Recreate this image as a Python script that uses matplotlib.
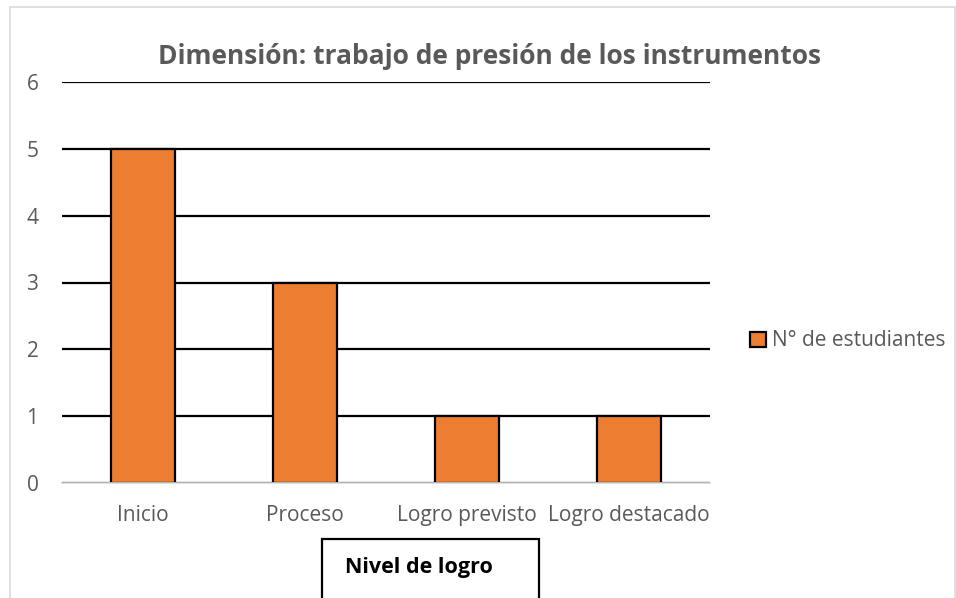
import matplotlib
matplotlib.use("Agg")
import matplotlib.pyplot as plt
from matplotlib.patches import Rectangle

plt.rcParams['font.family'] = ['Open Sans', 'DejaVu Sans']

categorias = ['Inicio', 'Proceso', 'Logro previsto', 'Logro destacado']
estudiantes = [5, 3, 1, 1]
serie = 'N° de estudiantes'
titulo = 'Dimensión: trabajo de presión de los instrumentos'
eje_x = 'Nivel de logro'

naranja = '#ED7D31'
gris = '#595959'

fig = plt.figure(figsize=(9.56, 5.98), dpi=100)
fig.patch.set_facecolor('white')

# outer chart frame
fig.patches.append(Rectangle((10 / 956, -0.01), 945 / 956, 1 - 7 / 598 + 0.01,
                             transform=fig.transFigure, fill=False,
                             edgecolor='#D9D9D9', linewidth=1.2))

ax = fig.add_axes([62 / 956, 115 / 598, 648 / 956, 401 / 598])
x = range(len(categorias))
ax.bar(x, estudiantes, width=0.40, color=naranja, edgecolor='black',
       linewidth=1.6, label=serie, zorder=3)

ax.set_xlim(-0.5, len(categorias) - 0.5)
ax.set_ylim(0, 6)
ax.set_yticks(range(0, 7))
ax.set_xticks(list(x))
ax.set_xticklabels(categorias)
ax.yaxis.grid(True, color='black', linewidth=1.6, zorder=0)
ax.set_axisbelow(True)
for s in ['top', 'right', 'left']:
    ax.spines[s].set_visible(False)
ax.spines['bottom'].set_color('#D9D9D9')
ax.spines['bottom'].set_linewidth(1.2)
ax.spines['bottom'].set_zorder(4)
ax.tick_params(axis='both', length=0, colors=gris, labelsize=15)
ax.tick_params(axis='y', pad=17)
ax.tick_params(axis='x', pad=15.5)

fig.text(490 / 956, 1 - 57 / 598, titulo, ha='center', va='center',
         fontsize=19, fontweight='bold', color=gris)

fig.text(419 / 956, 1 - 568 / 598, eje_x, ha='center', va='center',
         fontsize=15.5, fontweight='bold', color='black')
fig.patches.append(Rectangle((322 / 956, -0.01), 217 / 956, (598 - 539) / 598 + 0.01,
                             transform=fig.transFigure, fill=False,
                             edgecolor='black', linewidth=1.6))

leg = fig.legend(loc='center left', bbox_to_anchor=(750 / 956, 1 - 341 / 598),
                 frameon=False, fontsize=15, handlelength=0.75,
                 handleheight=0.75, handletextpad=0.3, labelcolor=gris,
                 borderaxespad=0, borderpad=0)

fig.savefig('out.png', dpi=100, facecolor='white')
